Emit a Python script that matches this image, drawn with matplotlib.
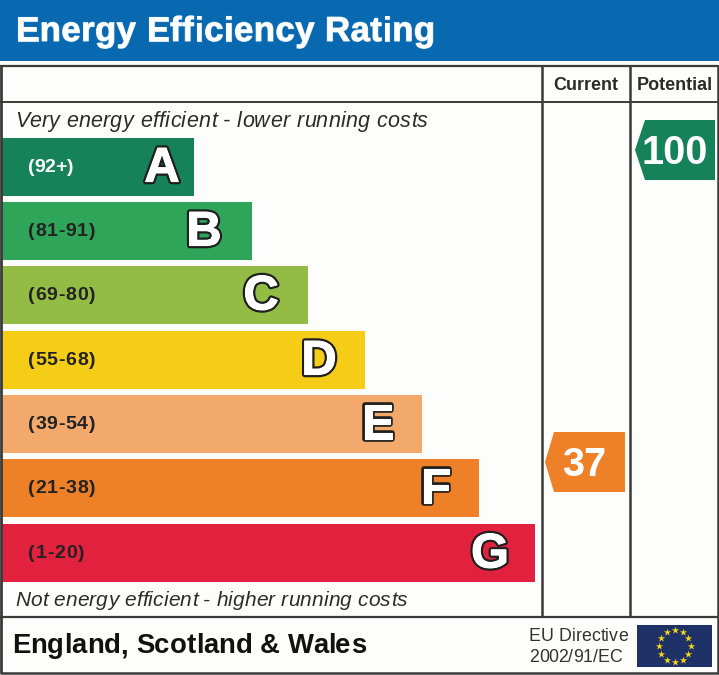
import matplotlib
matplotlib.use("Agg")
import matplotlib.pyplot as plt
import matplotlib.patheffects as pe
from matplotlib.patches import Rectangle, Polygon
import numpy as np

plt.rcParams['font.family'] = ['Liberation Sans', 'DejaVu Sans']

# bands, best to worst
letters = ['A', 'B', 'C', 'D', 'E', 'F', 'G']
ranges = ['(92+)', '(81-91)', '(69-80)', '(55-68)', '(39-54)', '(21-38)', '(1-20)']
range_right = [73, 95, 95, 95, 95, 95, 84]
bar_right = [194, 252, 308, 365, 422, 479, 535]
bar_top = [138, 202, 266, 331, 395, 459, 524]
letter_x = [162, 204, 261, 319, 378, 436, 490]
colors = ['#15825a', '#2ea558', '#92bc44', '#f6cd16', '#f3a96b', '#ee8027', '#e2213f']

current = 37
potential = 100

fig = plt.figure(figsize=(7.19, 6.75), dpi=100)
ax = fig.add_axes([0, 0, 1, 1])
ax.set_xlim(0, 719)
ax.set_ylim(675, 0)   # pixel coords, y going down
ax.axis('off')
renderer = fig.canvas.get_renderer()


def text_width(s, **kw):
    # measured with an x on the end so trailing spaces count
    t = ax.text(0, 0, s + 'x', **kw)
    w = t.get_window_extent(renderer).width
    t.set_text('x')
    w -= t.get_window_extent(renderer).width
    t.remove()
    return w


def spaced(x0, x1, y, s, **kw):
    # matplotlib has no letter spacing, so place chars one by one to fill x0..x1
    track = (x1 - x0 - text_width(s, **kw)) / (len(s) - 1)
    for i, ch in enumerate(s):
        if ch != ' ':
            ax.text(x0 + text_width(s[:i], **kw) + i * track, y, ch, ha='left', va='baseline', **kw)


# header band
ax.add_patch(Rectangle((0, 0), 719, 61, color='#0869b1', lw=0))
spaced(16, 435, 41, 'Energy Efficiency Rating', color='white', fontsize=25, weight='bold',
       path_effects=[pe.withStroke(linewidth=0.8, foreground='#cfe0ee')])

# frame lines
line = '#3a3a3a'
for xs, ys, lw in [([1, 1], [65, 673], 2.0), ([717.5, 717.5], [65, 673], 1.8),
                   ([0, 719], [65.5, 65.5], 1.6), ([0, 719], [101.5, 101.5], 1.4),
                   ([0, 719], [617, 617], 1.6), ([0, 719], [673, 673], 1.8),
                   ([542, 542], [65, 617], 1.8), ([630, 630], [65, 617], 1.8)]:
    ax.plot(xs, ys, color=line, lw=lw, solid_capstyle='butt')

ax.text(553, 90, 'Current', color='#2b2b2b', fontsize=13, weight='bold', ha='left', va='baseline')
ax.text(637, 90, 'Potential', color='#2b2b2b', fontsize=13, weight='bold', ha='left', va='baseline')

spaced(15, 428, 127, 'Very energy efficient - lower running costs', color='#2b2b2b',
       fontsize=15.5, style='italic')
spaced(15, 407, 606, 'Not energy efficient - higher running costs', color='#2b2b2b',
       fontsize=15, style='italic')

# the bars
centers = [t + 29 for t in bar_top]
ax.barh(centers, [r - 2 for r in bar_right], height=58, left=2, color=colors, lw=0)
for i in range(len(letters)):
    txt_col = 'white' if i == 0 else '#222222'
    spaced(28, range_right[i], centers[i] + 5, ranges[i], color=txt_col, fontsize=14, weight='bold')
    ax.text(letter_x[i], centers[i] + 2, letters[i], color='white', fontsize=35, weight='bold',
            ha='center', va='center',
            path_effects=[pe.withStroke(linewidth=4.0, foreground='#1f1f1f'),
                          pe.withStroke(linewidth=0.8, foreground='white'), pe.Normal()])


def arrow(right, top, height, point_x, neck_x, value, band):
    mid = top + height / 2
    ax.add_patch(Polygon([(point_x, mid), (neck_x, top), (right, top), (right, top + height),
                          (neck_x, top + height)], closed=True, color=band, lw=0))
    ax.text((neck_x + right) / 2 - 5, mid + 3, str(value), color='white', fontsize=28.5,
            weight='bold', ha='center', va='center')


arrow(625, 432, 60, 545, 554, current, colors[5])
arrow(715, 120, 60, 635, 645, potential, colors[0])

# footer
spaced(12, 366, 653, 'England, Scotland & Wales', color='#111111', fontsize=19.8, weight='bold')
spaced(529, 628, 641, 'EU Directive', color='#333333', fontsize=12.8)
spaced(529, 622, 662, '2002/91/EC', color='#333333', fontsize=12.8)

# EU flag
ax.add_patch(Rectangle((637, 625), 75, 42, color='#1e3268', lw=0))
angles = np.arange(12) * np.pi / 6
ax.scatter(674.5 + 16 * np.sin(angles), 646 - 16 * np.cos(angles), marker='*', s=30,
           color='#f7d417', lw=0, zorder=3)

fig.savefig('out.png', dpi=100, facecolor='#fdfdfb')
